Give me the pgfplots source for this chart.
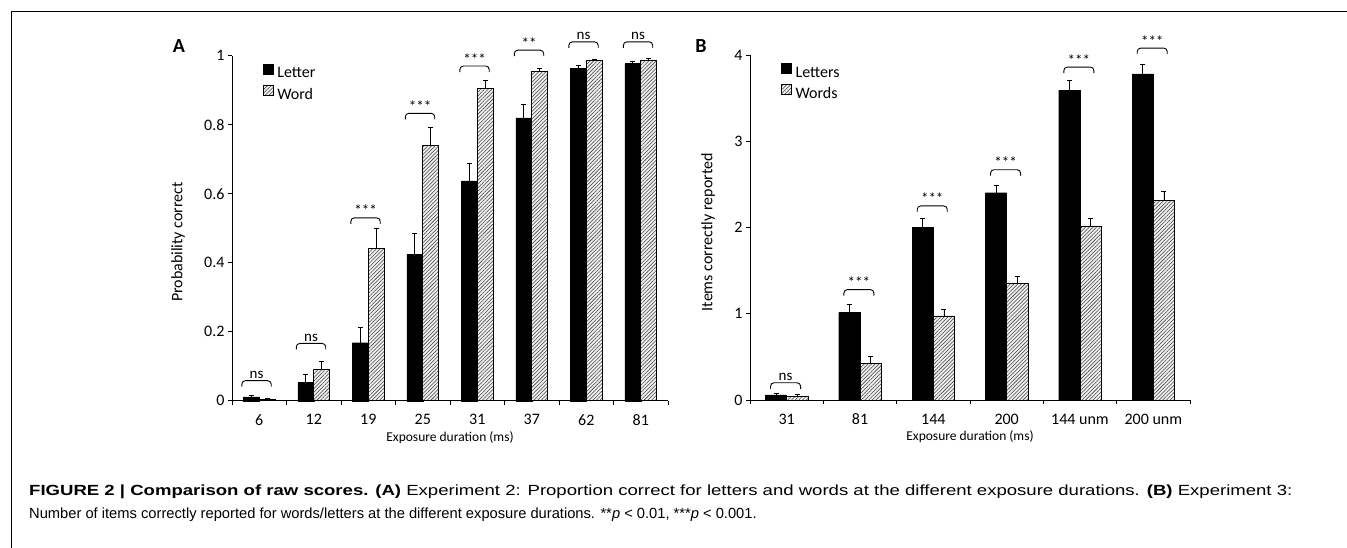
\documentclass[border=0pt]{standalone}
\usepackage{fontspec}
\setmainfont{Carlito}
\newfontfamily\capfont{Liberation Sans}
\usepackage{graphicx}
\usepackage{pgfplots}
\usepackage{pgfplotstable}
\pgfplotsset{compat=1.18}
\usetikzlibrary{patterns,patterns.meta}

\pgfplotstableread{
x L Le W We
0 0.011 0.003 0.005 0.002
1 0.053 0.022 0.091 0.022
2 0.168 0.045 0.442 0.057
3 0.425 0.060 0.741 0.050
4 0.637 0.052 0.905 0.024
5 0.820 0.038 0.954 0.010
6 0.963 0.010 0.986 0.004
7 0.977 0.006 0.987 0.005
}\dataA

\pgfplotstableread{
x L Le W We
0 0.060 0.020 0.045 0.020
1 1.013 0.096 0.421 0.079
2 2.000 0.100 0.974 0.081
3 2.403 0.082 1.349 0.081
4 3.594 0.106 2.017 0.089
5 3.780 0.110 2.315 0.100
}\dataB

\tikzset{hatch/.style={fill=gray!12, postaction={pattern={Lines[angle=45,distance=2.6pt,line width=0.55pt]}, pattern color=black!75}}}

\newcommand{\brk}[4]{%
  \draw[line width=0.9pt, rounded corners=3.5pt] ([yshift=-6pt]axis cs:#1,#3) -- (axis cs:#1,#3) -- (axis cs:#2,#3) -- ([yshift=-6pt]axis cs:#2,#3);
  \node[anchor=base, inner sep=0pt, font=\fontsize{15}{17}\selectfont] at ([yshift=2pt]axis cs:{(#1+#2)/2},#3) {#4};}

\pgfplotsset{
  myaxis/.style={
    scale only axis, height=345pt,
    ybar, bar width=0.29,
    axis x line*=bottom, axis y line*=left,
    axis line style={-, line width=1pt, black},
    tick align=outside,
    major tick length=4pt,
    tick style={line width=0.8pt, black},
    ticklabel style={font=\fontsize{16}{19}\selectfont},
    /pgf/number format/assume math mode=true,
    clip=false,
    ylabel style={font=\fontsize{16}{19}\selectfont},
    xlabel style={font=\fontsize{13.5}{16}\selectfont},
    xticklabel style={anchor=center, yshift=-19pt},
    xticklabels={},
    extra x tick style={major tick length=0pt},
    legend style={draw=none, fill=none, font=\fontsize{16}{19}\selectfont, anchor=north west, row sep=4pt, inner sep=0pt, nodes={inner sep=1.5pt}, cells={anchor=west}, /tikz/every odd column/.append style={column sep=2.5pt}},
    legend image code/.code={\draw[#1] (0pt,-0.5pt) rectangle (10pt,9.5pt);},
    error bars/y dir=plus, error bars/y explicit,
    error bars/error bar style={black, line width=0.8pt},
    error bars/error mark options={rotate=90, mark size=2.5pt, black, line width=0.8pt},
  }
}

\begin{document}
\begin{tikzpicture}
\useasboundingbox (0,0) rectangle (1347pt,-548pt);
\draw[line width=1pt] (11.5pt,-549pt) -- (11.5pt,-11.5pt) -- (1348pt,-11.5pt);

\node[font=\bfseries\fontsize{20}{24}\selectfont] at (179pt,-46pt) {A};
\node[font=\bfseries\fontsize{20}{24}\selectfont] at (701pt,-46pt) {B};

\begin{axis}[myaxis, at={(232pt,-400.7pt)}, anchor=south west, width=436pt,
  xmin=-0.5, xmax=7.5, ymin=0, ymax=1,
  ytick={0,0.2,0.4,0.6,0.8,1}, yticklabels={0,0.2,0.4,0.6,0.8,1},
  xtick={-0.5,0.5,1.5,2.5,3.5,4.5,5.5,6.5,7.5},
  extra x ticks={0,1,2,3,4,5,6,7}, extra x tick labels={6,12,19,25,31,37,62,81},
  ylabel={Probability correct}, xlabel={Exposure duration (ms)},
  ylabel style={at={([xshift=-54pt]axis description cs:0,0.46)}, anchor=center},
  xlabel style={at={([yshift=-37pt]axis description cs:0.5,0)}, anchor=center},
  legend style={at={(rel axis cs:0.07,0.977)}},
]
\addplot[fill=black, draw=black, bar shift=-0.145] table[x=x, y=L, y error=Le]{\dataA};
\addlegendentry{Letter}
\addplot[hatch, draw=black, line width=0.6pt, bar shift=0.145] table[x=x, y=W, y error=We]{\dataA};
\addlegendentry{Word}
\brk{-0.32}{0.22}{0.058}{ns}
\brk{0.68}{1.22}{0.166}{ns}
\brk{1.68}{2.22}{0.53}{***}
\brk{2.68}{3.22}{0.833}{***}
\brk{3.68}{4.22}{0.97}{***}
\brk{4.68}{5.22}{1.016}{**}
\brk{5.68}{6.22}{1.04}{ns}
\brk{6.68}{7.22}{1.04}{ns}
\end{axis}

\begin{axis}[myaxis, at={(750pt,-400pt)}, anchor=south west, width=440pt,
  xmin=-0.5, xmax=5.5, ymin=0, ymax=4,
  ytick={0,1,2,3,4},
  xtick={-0.5,0.5,1.5,2.5,3.5,4.5,5.5},
  extra x ticks={0,1,2,3,4,5}, extra x tick labels={31,81,144,200,144 unm,200 unm},
  ylabel={Items correctly reported}, xlabel={Exposure duration (ms)},
  ylabel style={at={([xshift=-42pt]axis description cs:0,0.486)}, anchor=center},
  xlabel style={at={([yshift=-37pt]axis description cs:0.5,0)}, anchor=center},
  legend style={at={(rel axis cs:0.07,0.977)}},
]
\addplot[fill=black, draw=black, bar shift=-0.145] table[x=x, y=L, y error=Le]{\dataB};
\addlegendentry{Letters}
\addplot[hatch, draw=black, line width=0.6pt, bar shift=0.145] table[x=x, y=W, y error=We]{\dataB};
\addlegendentry{Words}
\brk{-0.22}{0.19}{0.2}{ns}
\brk{0.78}{1.19}{1.28}{***}
\brk{1.78}{2.19}{2.25}{***}
\brk{2.78}{3.19}{2.67}{***}
\brk{3.78}{4.19}{3.86}{***}
\brk{4.78}{5.19}{4.08}{***}
\end{axis}

\node[anchor=north west, align=left, inner sep=0pt, font=\capfont\fontsize{14.7}{22.5}\selectfont] at (29pt,-485pt) {%
\resizebox{1263pt}{\height}{\textbf{FIGURE 2 | Comparison of raw scores. (A)} Experiment 2: Proportion correct for letters and words at the different exposure durations. \textbf{(B)} Experiment 3:}\\
Number of items correctly reported for words/letters at the different exposure durations. **\textit{p} < 0.01, ***\textit{p} < 0.001.};
\end{tikzpicture}
\end{document}
